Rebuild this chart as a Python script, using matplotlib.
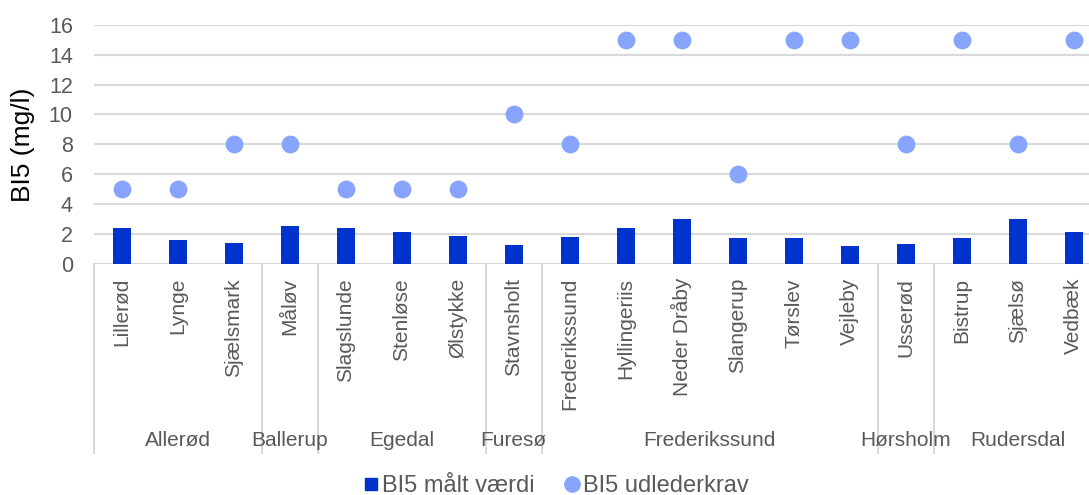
import matplotlib
matplotlib.use("Agg")
import matplotlib.pyplot as plt
from matplotlib.lines import Line2D
import matplotlib.transforms as mtransforms

# Data
stations = ["Lillerød", "Lynge", "Sjælsmark", "Måløv", "Slagslunde", "Stenløse",
            "Ølstykke", "Stavnsholt", "Frederikssund", "Hyllingeriis", "Neder Dråby",
            "Slangerup", "Tørslev", "Vejleby", "Usserød", "Bistrup", "Sjælsø", "Vedbæk"]
municipalities = ["Allerød", "Ballerup", "Egedal", "Furesø", "Frederikssund",
                  "Hørsholm", "Rudersdal"]
municipality_sizes = [3, 1, 3, 1, 6, 1, 3]
measured = [2.38, 1.6, 1.38, 2.53, 2.4, 2.15, 1.89, 1.27, 1.78, 2.44, 3.04,
            1.71, 1.76, 1.18, 1.31, 1.73, 3.04, 2.15]
requirement = [5, 5, 8, 8, 5, 5, 5, 10, 8, 15, 15, 6, 15, 15, 8, 15, 8, 15]
yticks = [0, 2, 4, 6, 8, 10, 12, 14, 16]

BAR_COLOR = "#0033CC"
DOT_COLOR = "#87A5FF"
GRID_COLOR = "#D9D9D9"
TEXT_COLOR = "#595959"

plt.rcParams["font.family"] = ["Liberation Sans", "DejaVu Sans"]

W, H = 1089, 495
fig = plt.figure(figsize=(W / 100, H / 100), dpi=100)
left_px, right_px, top_px, bottom_px = 93.7, 1101.7, 24.7, 264.0
ax = fig.add_axes([left_px / W, (H - bottom_px) / H,
                   (right_px - left_px) / W, (bottom_px - top_px) / H])

x = list(range(len(stations)))
ax.bar(x, measured, width=0.325, color=BAR_COLOR, zorder=3)
ax.scatter(x, requirement, s=165, color=DOT_COLOR, zorder=4, linewidths=0)

ax.set_xlim(-0.5, len(stations) - 0.5)
ax.set_ylim(0, 16)
ax.set_yticks(yticks)
ax.set_yticklabels([str(v) for v in yticks], fontsize=15.5, color=TEXT_COLOR)
ax.tick_params(axis="y", length=0, pad=15)
ax.set_xticks([])
ax.yaxis.grid(True, color=GRID_COLOR, linewidth=1.5, zorder=0)
ax.set_axisbelow(True)
for s in ax.spines.values():
    s.set_visible(False)
ax.axhline(0, color=GRID_COLOR, linewidth=1.5, zorder=1)
ax.set_ylabel("BI5 (mg/l)", fontsize=19, color="black", labelpad=10)

# Multi-level category axis
trans = mtransforms.blended_transform_factory(ax.transData, ax.transAxes)
px_per_axes = bottom_px - top_px
label_top = -(278 - bottom_px) / px_per_axes
group_y = -(440 - bottom_px) / px_per_axes
sep_bottom = -(452.7 - bottom_px) / px_per_axes

for xi, name in zip(x, stations):
    ax.text(xi, label_top, name, rotation=90, ha="center", va="top",
            fontsize=15, color=TEXT_COLOR, transform=trans)

start = 0
boundaries = [-0.5]
for name, n in zip(municipalities, municipality_sizes):
    center = start + (n - 1) / 2
    ax.text(center, group_y, name, ha="center", va="center",
            fontsize=15, color=TEXT_COLOR, transform=trans)
    start += n
    boundaries.append(start - 0.5)

for b in boundaries:
    ax.add_line(Line2D([b, b], [0, sep_bottom], color=GRID_COLOR, linewidth=1.5,
                       transform=trans, clip_on=False))

# Legend
handles = [
    Line2D([], [], marker="s", linestyle="none", markersize=9, color=BAR_COLOR,
           label="BI5 målt værdi"),
    Line2D([], [], marker="o", linestyle="none", markersize=11, color=DOT_COLOR,
           label="BI5 udlederkrav"),
]
fig.legend(handles=handles, loc="center", bbox_to_anchor=(0.511, 0.018),
           ncol=2, frameon=False, fontsize=17, handlelength=0.6,
           handletextpad=0.15, columnspacing=1.3, labelcolor=TEXT_COLOR,
           borderaxespad=0, borderpad=0)

fig.savefig("out.png", dpi=100)
